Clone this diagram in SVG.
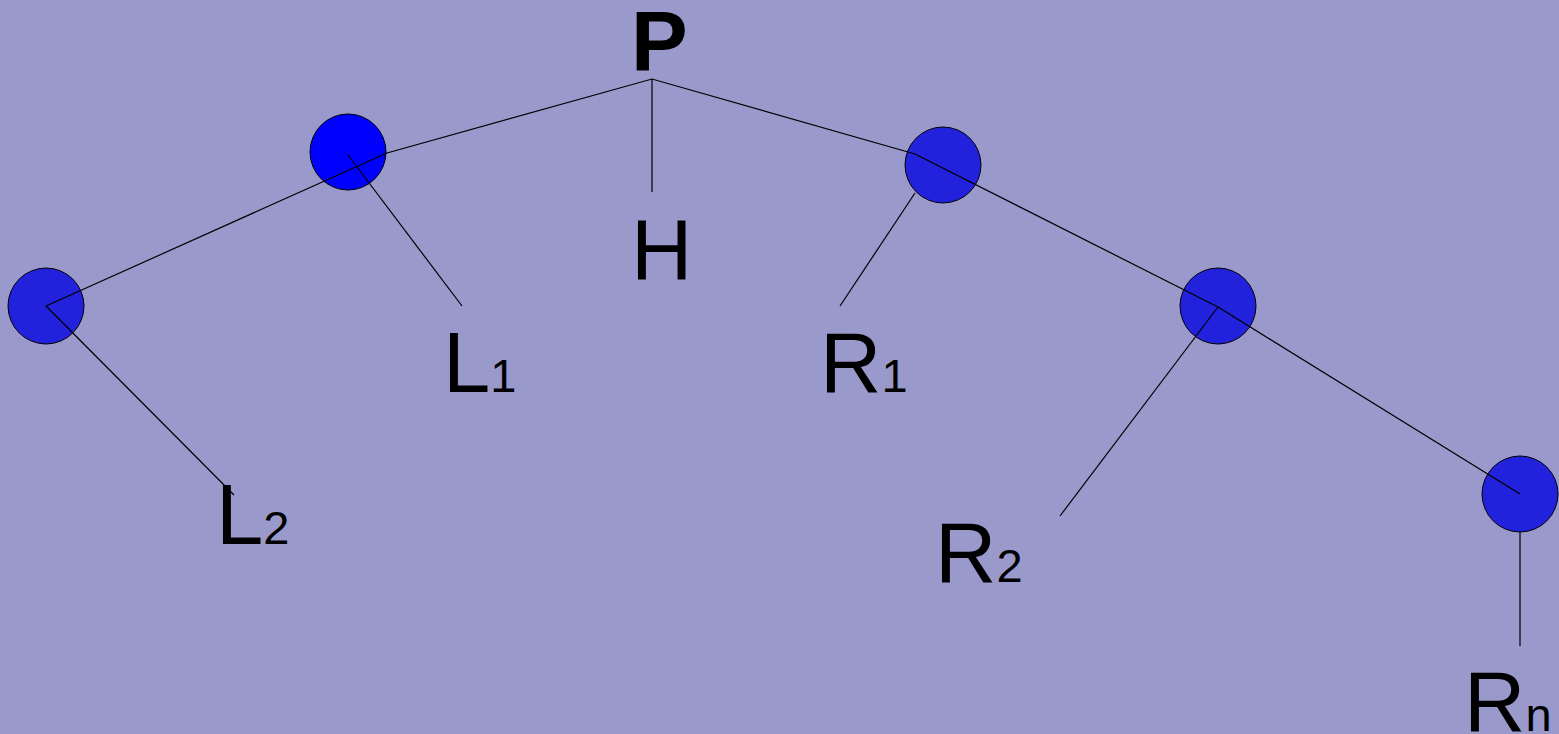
<svg xmlns="http://www.w3.org/2000/svg" width="1559" height="734" viewBox="0 0 1559 734">
<style>
.n{fill:#2222dd;stroke:#000;stroke-width:1}
.c{fill:none;stroke:#000;stroke-width:1.2}
.t{font-family:"Liberation Sans",Arial,sans-serif;fill:#000}
.m{font-size:85px}
.s{font-size:47px}
</style>
<rect width="1559" height="734" fill="#9999cc"/>
<g id="nodes">
<g id="n-l1"><circle class="n" cx="348" cy="152" r="38" style="fill:#0000ff"/></g>
<g id="n-l2"><circle class="n" cx="46" cy="306" r="38"/></g>
<g id="n-r1"><circle class="n" cx="943" cy="165" r="38"/></g>
<g id="n-r2"><circle class="n" cx="1218" cy="306" r="38"/></g>
<g id="n-rn"><circle class="n" cx="1520" cy="494" r="38"/></g>
</g>
<g id="connectors">
<polyline class="c" points="46,306 387,153 652,79 915,154 1218,307 1520,494"/>
<line class="c" x1="652" y1="79" x2="652" y2="192"/>
<line class="c" x1="348" y1="155" x2="462" y2="306"/>
<line class="c" x1="46" y1="306" x2="234" y2="495"/>
<line class="c" x1="915" y1="193" x2="840" y2="306"/>
<line class="c" x1="1218" y1="307" x2="1060" y2="516"/>
<line class="c" x1="1520" y1="532" x2="1520" y2="646"/>
</g>
<g id="labels">
<text id="lbl-p" class="t m" x="631" y="71" font-weight="bold">P</text>
<text id="lbl-h" class="t m" x="631" y="279">H</text>
<text id="lbl-l1" class="t" x="443" y="392"><tspan class="m">L</tspan><tspan class="s">1</tspan></text>
<text id="lbl-l2" class="t" x="216" y="544"><tspan class="m">L</tspan><tspan class="s">2</tspan></text>
<text id="lbl-r1" class="t" x="820" y="392"><tspan class="m">R</tspan><tspan class="s">1</tspan></text>
<text id="lbl-r2" class="t" x="935" y="582"><tspan class="m">R</tspan><tspan class="s">2</tspan></text>
<text id="lbl-rn" class="t" x="1464" y="731"><tspan class="m">R</tspan><tspan class="s">n</tspan></text>
</g>
</svg>
